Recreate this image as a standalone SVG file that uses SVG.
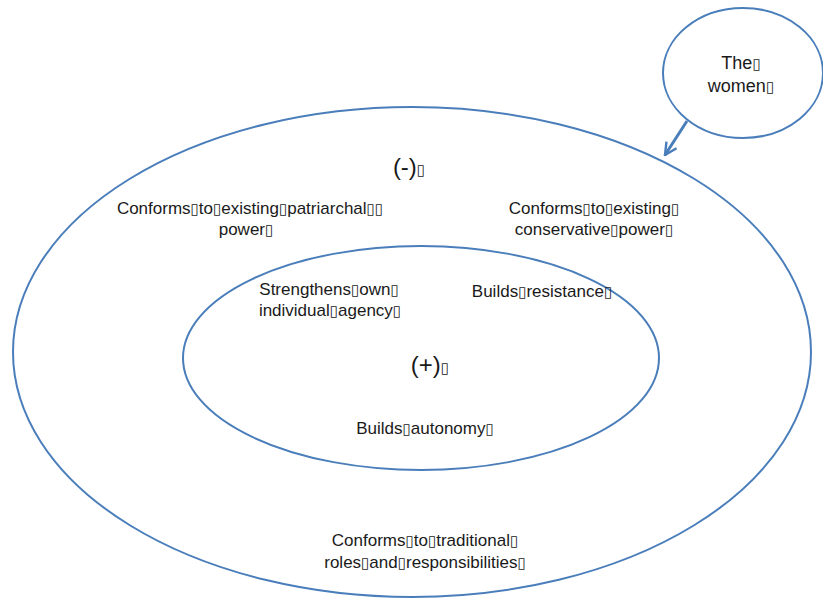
<svg xmlns="http://www.w3.org/2000/svg" width="823" height="607" viewBox="0 0 823 607">
  <style>
    .ring { fill: #ffffff; stroke: #4a7ebb; stroke-width: 2; }
    .lbl { font-family: "Liberation Sans", "DejaVu Sans", sans-serif; font-size: 17px; fill: #1a1a1a; text-anchor: middle; }
    .big { font-size: 18px; }
    .sign { font-family: "Liberation Sans", "DejaVu Sans", sans-serif; font-size: 24px; fill: #1a1a1a; text-anchor: middle; }
    .q { font-family: "DejaVu Sans", sans-serif; font-size: 15px; }
    .link { fill: none; stroke: #4a7ebb; stroke-width: 3; }
  </style>
  <defs>
    <marker id="chevron" viewBox="0 0 10 10" refX="9" refY="5" markerWidth="5" markerHeight="5" orient="auto" markerUnits="strokeWidth">
      <path d="M1,1 L9,5 L1,9" fill="none" stroke="#4a7ebb" stroke-width="1.6"/>
    </marker>
  </defs>
  <rect width="823" height="607" fill="#ffffff"/>

  <g id="outer-ring">
    <ellipse class="ring" cx="412" cy="352" rx="399" ry="245"/>
    <text class="sign" x="409" y="175">(-)<tspan class="q">▯</tspan></text>
    <text class="lbl" x="250" y="214">Conforms<tspan class="q">▯</tspan>to<tspan class="q">▯</tspan>existing<tspan class="q">▯</tspan>patriarchal<tspan class="q">▯▯</tspan></text>
    <text class="lbl" x="246" y="235">power<tspan class="q">▯</tspan></text>
    <text class="lbl" x="594" y="214">Conforms<tspan class="q">▯</tspan>to<tspan class="q">▯</tspan>existing<tspan class="q">▯</tspan></text>
    <text class="lbl" x="594" y="235">conservative<tspan class="q">▯</tspan>power<tspan class="q">▯</tspan></text>
    <text class="lbl" x="425" y="546">Conforms<tspan class="q">▯</tspan>to<tspan class="q">▯</tspan>traditional<tspan class="q">▯</tspan></text>
    <text class="lbl" x="425" y="568">roles<tspan class="q">▯</tspan>and<tspan class="q">▯</tspan>responsibilities<tspan class="q">▯</tspan></text>
  </g>

  <g id="inner-ring">
    <ellipse class="ring" cx="421" cy="358" rx="238" ry="112"/>
    <text class="lbl" x="329" y="295">Strengthens<tspan class="q">▯</tspan>own<tspan class="q">▯</tspan></text>
    <text class="lbl" x="330" y="316">individual<tspan class="q">▯</tspan>agency<tspan class="q">▯</tspan></text>
    <text class="lbl" x="542" y="297">Builds<tspan class="q">▯</tspan>resistance<tspan class="q">▯</tspan></text>
    <text class="sign" x="430" y="373">(+)<tspan class="q">▯</tspan></text>
    <text class="lbl" x="425" y="434">Builds<tspan class="q">▯</tspan>autonomy<tspan class="q">▯</tspan></text>
  </g>

  <g id="women">
    <ellipse class="ring" cx="743" cy="73" rx="80" ry="65"/>
    <text class="lbl big" x="741" y="69">The<tspan class="q">▯</tspan></text>
    <text class="lbl big" x="741" y="92">women<tspan class="q">▯</tspan></text>
  </g>

  <g id="connectors">
    <line class="link" x1="687" y1="121" x2="665" y2="155" marker-end="url(#chevron)"/>
  </g>
</svg>
